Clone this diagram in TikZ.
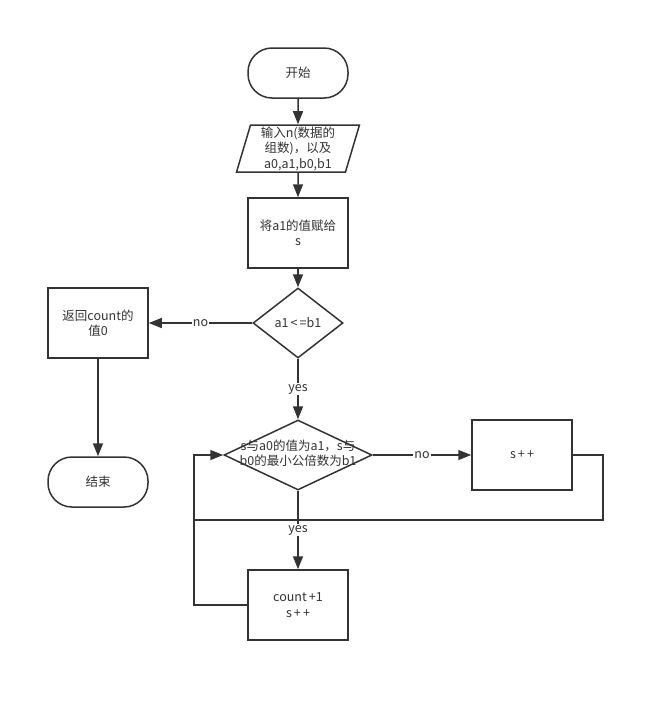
\documentclass[tikz,border=0pt]{standalone}
\usepackage{fontspec}
\newfontfamily\cjk{Noto Sans CJK SC}
\usetikzlibrary{shapes.geometric, arrows.meta}
\definecolor{ink}{HTML}{333333}

\begin{document}
\begin{tikzpicture}[
			x=1pt, y=1pt,
			line width=1.5pt,
			every node/.style={font=\cjk\fontsize{12.5}{15.5}\selectfont, text=ink},
			term/.style={rectangle, rounded corners=24pt, draw=ink, fill=white, minimum width=100pt, minimum height=50pt},
			io/.style={trapezium, trapezium left angle=76, trapezium right angle=104, trapezium stretches=true, draw=ink, fill=white, minimum width=124pt, minimum height=47pt, inner sep=0pt, align=center},
			proc/.style={rectangle, draw=ink, fill=white, minimum width=100pt, minimum height=70pt, align=center},
			cond/.style={diamond, draw=ink, fill=white, inner sep=0pt},
			flow/.style={draw=ink, -{Triangle[length=13pt,width=10pt]}},
			tag/.style={fill=white, inner sep=1pt}
			]
			\useasboundingbox (0,0) rectangle (664,-702);
			\node[term] (start) at (298,-73) {开始};
			\node[io] (input) at (298,-148.5) {输入n(数据的\\组数)，以及\\a0,a1,b0,b1};
			\node[proc] (assign) at (298,-233) {将a1的值赋给\\s};
			\node[cond, minimum width=90pt, minimum height=70pt] (check) at (298,-323) {a1\,<\,=b1};
			\node[proc] (ret) at (98,-323) {返回count的\\值0};
			\node[term] (stop) at (98,-482) {结束};
			\node[cond, minimum width=148pt, minimum height=70pt] (test) at (298,-455)
				{\makebox[0pt]{\begin{tabular}{@{}c@{}}s与a0的值为a1，s与\\b0的最小公倍数为b1\end{tabular}}};
			\node[proc] (inc) at (522,-455) {s\,+\,+};
			\node[proc] (count) at (298,-605) {count\,+1\\s\,+\,+};
			\coordinate (loop) at (194,-520);
			\draw[flow] (start) -- (input);
			\draw[flow] (input) -- (assign);
			\draw[flow] (assign) -- (check);
			\draw[flow] (check) -- node[tag] {no} (ret);
			\draw[flow] (ret) -- (stop);
			\draw[flow] (check) -- node[tag] {yes} (test);
			\draw[flow] (test) -- node[tag] {no} (inc);
			\draw[flow] (test) -- node[tag] {yes} (count);
			\draw[draw=ink, line join=miter] (inc.east) -- ++(30,0) |- (loop);
			\draw[flow, line join=miter] (count.west) -| (loop) |- (test.west);
		\end{tikzpicture}
\end{document}
